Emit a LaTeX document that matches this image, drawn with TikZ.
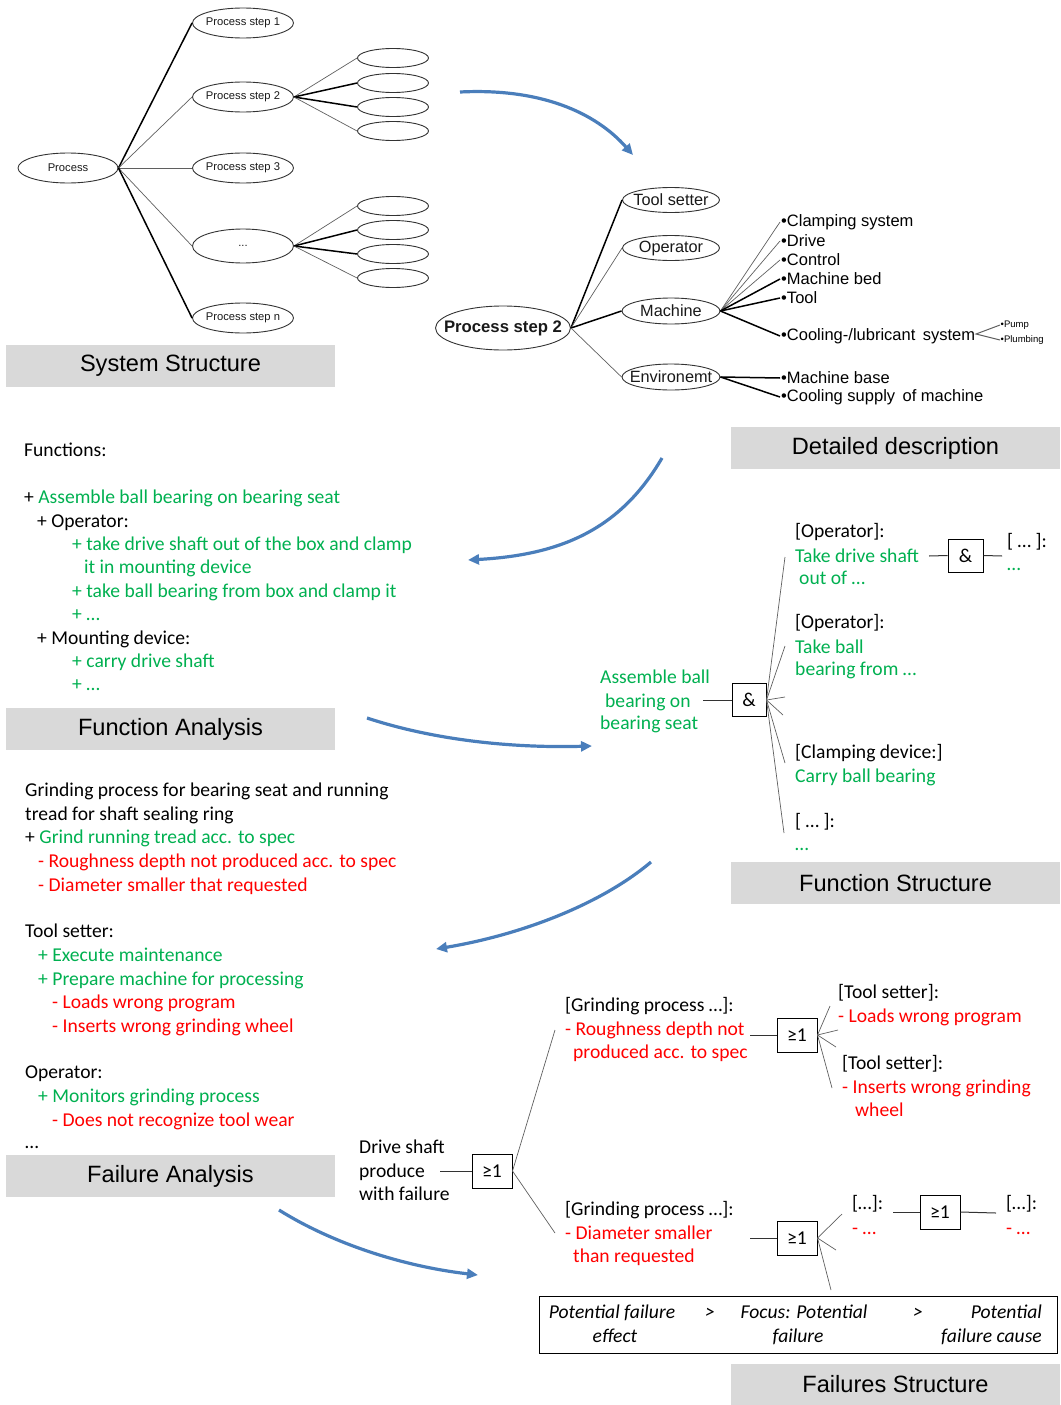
\documentclass[tikz,border=0pt]{standalone}
\usepackage{fontspec}
\setmainfont{Carlito}
\newfontfamily\arialfont{Liberation Sans}
\usetikzlibrary{shapes.geometric,arrows.meta}
\definecolor{fgreen}{RGB}{0,176,80}
\definecolor{fred}{RGB}{255,0,0}
\definecolor{hdrgray}{RGB}{217,217,217}
\definecolor{flowblue}{RGB}{74,126,187}
\definecolor{wiregray}{RGB}{95,95,95}
% label inside an oval that does not widen the oval
\newcommand\ovaltext[1]{\makebox[0pt][c]{#1}}
\begin{document}
\begin{tikzpicture}[x=1pt,y=-1pt,
  oval/.style={ellipse, draw=black!80, line width=0.9pt, inner sep=0pt, text=black!90},
  smallfont/.style={font=\arialfont\fontsize{11.2}{13}\selectfont},
  midfont/.style={font=\arialfont\fontsize{16.3}{19}\selectfont},
  hdr/.style={fill=hdrgray, minimum width=329pt, minimum height=42pt, inner sep=0pt, font=\arialfont\fontsize{23.6}{28}\selectfont},
  txt/.style={anchor=base west, inner sep=0pt, font=\fontsize{19.6}{23.4}\selectfont},
  gtxt/.style={txt, text=fgreen},
  rtxt/.style={txt, text=fred},
  bul/.style={anchor=west, inner sep=1pt, font=\arialfont\fontsize{16.5}{19}\selectfont},
  tinybul/.style={anchor=west, inner sep=0.5pt, font=\arialfont\fontsize{9.5}{11}\selectfont},
  gatebox/.style={draw, line width=1pt, minimum width=40pt, minimum height=34pt, inner sep=0pt, font=\fontsize{19.6}{23}\selectfont},
  wire/.style={draw=wiregray, line width=0.7pt},
  wirebold/.style={draw=black, line width=1.5pt},
  stub/.style={draw=black!80, line width=1pt},
  flow/.style={draw=flowblue, line width=3.2pt, -{Triangle[length=11pt,width=10pt]}},
  ital/.style={anchor=base, inner sep=0pt, font=\itshape\fontsize{19.6}{23.4}\selectfont},
]
\useasboundingbox (0,0) rectangle (1060,1405);

% ---------------- System structure: process tree ----------------
\node[oval, smallfont, minimum width=100pt, minimum height=30pt] (proc) at (68,168) {\ovaltext{Process}};
\node[oval, smallfont, minimum width=101pt, minimum height=30pt] (s1) at (243,23) {\ovaltext{Process step 1}};
\node[oval, smallfont, minimum width=101pt, minimum height=30pt] (s2) at (243,97) {\ovaltext{Process step 2}};
\node[oval, smallfont, minimum width=101pt, minimum height=30pt] (s3) at (243,168) {\ovaltext{Process step 3}};
\node[oval, smallfont, minimum width=101pt, minimum height=34pt] (sd) at (243,246) {\ovaltext{...}};
\node[oval, smallfont, minimum width=101pt, minimum height=30pt] (sn) at (243,318) {\ovaltext{Process step n}};
\node[oval, minimum width=71pt, minimum height=19pt] (a1) at (393,58) {};
\node[oval, minimum width=71pt, minimum height=19pt] (a2) at (393,83) {};
\node[oval, minimum width=71pt, minimum height=19pt] (a3) at (393,107) {};
\node[oval, minimum width=71pt, minimum height=19pt] (a4) at (393,131) {};
\node[oval, minimum width=71pt, minimum height=19pt] (b1) at (393,206) {};
\node[oval, minimum width=71pt, minimum height=19pt] (b2) at (393,230) {};
\node[oval, minimum width=71pt, minimum height=19pt] (b3) at (393,254) {};
\node[oval, minimum width=71pt, minimum height=19pt] (b4) at (393,278) {};

\draw[wirebold] (proc.east) -- (s1.west);
\draw[wire] (proc.east) -- (s2.west);
\draw[wire, line width=1pt] (proc.east) -- (s3.west);
\draw[wire] (proc.east) -- (sd.west);
\draw[wirebold] (proc.east) -- (sn.west);
\draw[wire] (s2.east) -- (a1.west);
\draw[wirebold] (s2.east) -- (a2.west);
\draw[wirebold] (s2.east) -- (a3.west);
\draw[wire] (s2.east) -- (a4.west);
\draw[wire] (sd.east) -- (b1.west);
\draw[wirebold] (sd.east) -- (b2.west);
\draw[wirebold] (sd.east) -- (b3.west);
\draw[wire] (sd.east) -- (b4.west);

% ---------------- Detailed description ----------------
\node[oval, font=\arialfont\bfseries\fontsize{16.7}{19}\selectfont, minimum width=135pt, minimum height=44pt] (ps2) at (503,328) {\ovaltext{Process step 2}};
\node[oval, midfont, minimum width=97pt, minimum height=25pt] (ts) at (671,200) {\ovaltext{Tool setter}};
\node[oval, midfont, minimum width=97pt, minimum height=25pt] (op) at (671,248) {\ovaltext{Operator}};
\node[oval, midfont, minimum width=98pt, minimum height=26pt] (ma) at (671,311) {\ovaltext{Machine}};
\node[oval, midfont, minimum width=98pt, minimum height=26pt] (en) at (671,377) {\ovaltext{Environemt}};

\draw[wirebold] (ps2.east) -- (ts.west);
\draw[wire] (ps2.east) -- (op.west);
\draw[wirebold] (ps2.east) -- (ma.west);
\draw[wire] (ps2.east) -- (en.west);

\node[bul] (mcl) at (780,222) {•Clamping system};
\node[bul] (mdr) at (780,241) {•Drive};
\node[bul] (mco) at (780,260) {•Control};
\node[bul] (mbd) at (780,279) {•Machine bed};
\node[bul] (mto) at (780,298) {•Tool};
\node[bul] (mcool) at (780,336) {•Cooling-/lubricant\hspace{0.45em}system};
\node[bul] (ebase) at (780,378) {•Machine base};
\node[bul] (esup) at (780,397) {•Cooling supply\hspace{0.45em}of machine};
\node[tinybul] (pump) at (1000,325) {•Pump};
\node[tinybul] (plumb) at (1000,340) {•Plumbing};
\coordinate (fork) at (976,334);

\draw[wire] (ma.east) -- (mcl.west);
\draw[wire] (ma.east) -- (mdr.west);
\draw[wire] (ma.east) -- (mco.west);
\draw[wirebold] (ma.east) -- (mbd.west);
\draw[wirebold] (ma.east) -- (mto.west);
\draw[wirebold] (ma.east) -- (mcool.west);
\draw[wirebold] (en.east) -- (ebase.west);
\draw[wirebold] (en.east) -- (esup.west);
\draw[wire, line width=1pt] (pump.west) -- (fork) -- (plumb.west);

% ---------------- Section headers ----------------
\node[hdr] (hsys) at (170.5,366) {System Structure};
\node[hdr] (hdet) at (895.5,448) {Detailed description};
\node[hdr] (hfan) at (170.5,729) {Function Analysis};
\node[hdr] (hfst) at (895.5,883) {Function Structure};
\node[hdr] (hfla) at (170.5,1176) {Failure Analysis};
\node[hdr, minimum height=41pt] (hfls) at (895.5,1384.5) {Failures Structure};

% ---------------- Flow arrows between steps ----------------
\coordinate (f1s) at (460,92);
\coordinate (f1e) at (633,155);
\coordinate (f2s) at (662,458);
\coordinate (f2e) at (468,560);
\coordinate (f3s) at (367,718);
\coordinate (f3e) at (592,746);
\coordinate (f4s) at (651,862);
\coordinate (f4e) at (436,949);
\coordinate (f5s) at (279,1210);
\coordinate (f5e) at (478,1275);
\draw[flow] (f1s) .. controls (540,88) and (595,112) .. (f1e);
\draw[flow] (f2s) .. controls (620,530) and (560,555) .. (f2e);
\draw[flow] (f3s) .. controls (440,742) and (520,748) .. (f3e);
\draw[flow] (f4s) .. controls (600,905) and (520,935) .. (f4e);
\draw[flow] (f5s) .. controls (330,1242) and (400,1266) .. (f5e);

% ---------------- Function analysis ----------------
\node[txt] (fa0) at (24,456) {Functions:};
\node[gtxt] (fa1) at (24,503) {\textcolor{black}{+} Assemble ball bearing on bearing seat};
\node[txt] (fa2) at (37,527) {+ Operator:};
\node[gtxt] (fa3) at (72,550) {+ take drive shaft out of the box and clamp};
\node[gtxt] (fa4) at (84,573) {it in mounting device};
\node[gtxt] (fa5) at (72,597) {+ take ball bearing from box and clamp it};
\node[gtxt] (fa6) at (72,620) {+ …};
\node[txt] (fa7) at (37,644) {+ Mounting device:};
\node[gtxt] (fa8) at (72,667) {+ carry drive shaft};
\node[gtxt] (fa9) at (72,690) {+ …};

% ---------------- Function structure ----------------
\node[gtxt] (fsr1) at (600,683) {Assemble ball};
\node[gtxt] (fsr2) at (605,707) {bearing on};
\node[gtxt] (fsr3) at (600,729) {bearing seat};
\node[gatebox, minimum width=34pt, minimum height=33pt] (g1) at (749,700) {\&};
\coordinate (g1in) at (703,700);
\draw[stub] (g1in) -- (g1.west);
\coordinate (c1) at (785,557);
\coordinate (c2) at (785,646);
\coordinate (c3) at (785,697);
\coordinate (c4) at (783,715);
\coordinate (c5) at (785,763);
\coordinate (c6) at (784,833);
\draw[wire] (g1.east) -- (c1);
\draw[wire] (g1.east) -- (c2);
\draw[wire] (g1.east) -- (c3);
\draw[wire] (g1.east) -- (c4);
\draw[wire] (g1.east) -- (c5);
\draw[wire] (g1.east) -- (c6);

\node[txt] (op1) at (795,537) {[Operator]:};
\node[gtxt] (op1a) at (795,562) {Take drive shaft};
\node[gtxt] (op1b) at (799,584) {out of …};
\node[gatebox, minimum width=35pt, minimum height=33pt] (g2) at (965.5,555.5) {\&};
\coordinate (g2in) at (929,556);
\coordinate (g2out) at (1002,556);
\draw[stub] (g2in) -- (g2.west);
\draw[stub] (g2.east) -- (g2out);
\node[txt] (nx1) at (1007,547) {[ … ]:};
\node[gtxt] (nx1a) at (1007,570) {…};

\node[txt] (op2) at (795,628) {[Operator]:};
\node[gtxt] (op2a) at (795,653) {Take ball};
\node[gtxt] (op2b) at (795,675) {bearing from …};
\node[txt] (cd) at (795,758) {[Clamping device:]};
\node[gtxt] (cda) at (795,782) {Carry ball bearing};
\node[txt] (nx2) at (795,827) {[ … ]:};
\node[gtxt] (nx2a) at (795,850) {…};

% ---------------- Failure analysis ----------------
\node[txt] (fl0) at (25,796) {Grinding process for bearing seat and running};
\node[txt] (fl1) at (25,820) {tread for shaft sealing ring};
\node[gtxt] (fl2) at (25,843) {\textcolor{black}{+} Grind running tread acc. to spec};
\node[rtxt] (fl3) at (38,867) {- Roughness depth not produced acc. to spec};
\node[rtxt] (fl4) at (38,891) {- Diameter smaller that requested};
\node[txt] (fl5) at (25,937) {Tool setter:};
\node[gtxt] (fl6) at (38,961) {+ Execute maintenance};
\node[gtxt] (fl7) at (38,985) {+ Prepare machine for processing};
\node[rtxt] (fl8) at (52,1008) {- Loads wrong program};
\node[rtxt] (fl9) at (52,1032) {- Inserts wrong grinding wheel};
\node[txt] (fl10) at (25,1078) {Operator:};
\node[gtxt] (fl11) at (38,1102) {+ Monitors grinding process};
\node[rtxt] (fl12) at (52,1126) {- Does not recognize tool wear};
\node[txt] (fl13) at (25,1148) {…};

% ---------------- Failures structure ----------------
\node[txt] (ds1) at (359,1153) {Drive shaft};
\node[txt] (ds2) at (359,1177) {produce};
\node[txt] (ds3) at (359,1200) {with failure};
\node[gatebox] (k1) at (492,1171) {≥1};
\coordinate (k1in) at (440,1171);
\draw[stub] (k1in) -- (k1.west);
\coordinate (k1u) at (555,1030);
\coordinate (k1d) at (555,1233);
\draw[wire] (k1.east) -- (k1u);
\draw[wire] (k1.east) -- (k1d);

\node[txt] (gp1) at (565,1011) {[Grinding process …]:};
\node[rtxt] (gp1a) at (565,1035) {- Roughness depth not};
\node[rtxt] (gp1b) at (573,1058) {produced acc. to spec};
\node[gatebox] (k2) at (797,1035) {≥1};
\coordinate (k2in) at (750,1035);
\draw[stub] (k2in) -- (k2.west);
\coordinate (d1) at (830,1006);
\coordinate (d2) at (838,1030);
\coordinate (d3) at (836,1047);
\coordinate (d4) at (832,1088);
\draw[wire] (k2.east) -- (d1);
\draw[wire] (k2.east) -- (d2);
\draw[wire] (k2.east) -- (d3);
\draw[wire] (k2.east) -- (d4);
\node[txt] (tsa) at (838,998) {[Tool setter]:};
\node[rtxt] (tsa1) at (838,1022) {- Loads wrong program};
\node[txt] (tsb) at (842,1069) {[Tool setter]:};
\node[rtxt] (tsb1) at (842,1093) {- Inserts wrong grinding};
\node[rtxt] (tsb2) at (855,1116) {wheel};

\node[txt] (gp2) at (565,1215) {[Grinding process …]:};
\node[rtxt] (gp2a) at (565,1239) {- Diameter smaller};
\node[rtxt] (gp2b) at (573,1262) {than requested};
\node[gatebox] (k3) at (797,1238) {≥1};
\coordinate (k3in) at (750,1238);
\draw[stub] (k3in) -- (k3.west);
\coordinate (e1) at (842,1214);
\coordinate (e2) at (836,1250);
\coordinate (e3) at (831,1290);
\draw[wire] (k3.east) -- (e1);
\draw[wire] (k3.east) -- (e2);
\draw[wire] (k3.east) -- (e3);
\node[txt] (dd1) at (852,1209) {[…]:};
\node[rtxt] (dd1a) at (852,1234) {- …};
\node[gatebox] (k4) at (940,1212) {≥1};
\coordinate (k4in) at (893,1212);
\coordinate (k4out) at (996,1213);
\draw[stub] (k4in) -- (k4.west);
\draw[stub] (k4.east) -- (k4out);
\node[txt] (dd2) at (1006,1209) {[…]:};
\node[rtxt] (dd2a) at (1006,1234) {- …};

% legend row
\node[draw, line width=1pt, minimum width=518pt, minimum height=57pt, inner sep=0pt] (legend) at (798,1324.5) {};
\node[ital] (lg1) at (612,1318) {Potential failure};
\node[ital] (lg2) at (615,1342) {effect};
\node[ital] (lg3) at (710,1318) {>};
\node[ital] (lg4) at (804,1318) {Focus: Potential};
\node[ital] (lg5) at (798,1342) {failure};
\node[ital] (lg6) at (918,1318) {>};
\node[ital, anchor=base east] (lg7) at (1042,1318) {Potential};
\node[ital, anchor=base east] (lg8) at (1042,1342) {failure cause};
\end{tikzpicture}
\end{document}
